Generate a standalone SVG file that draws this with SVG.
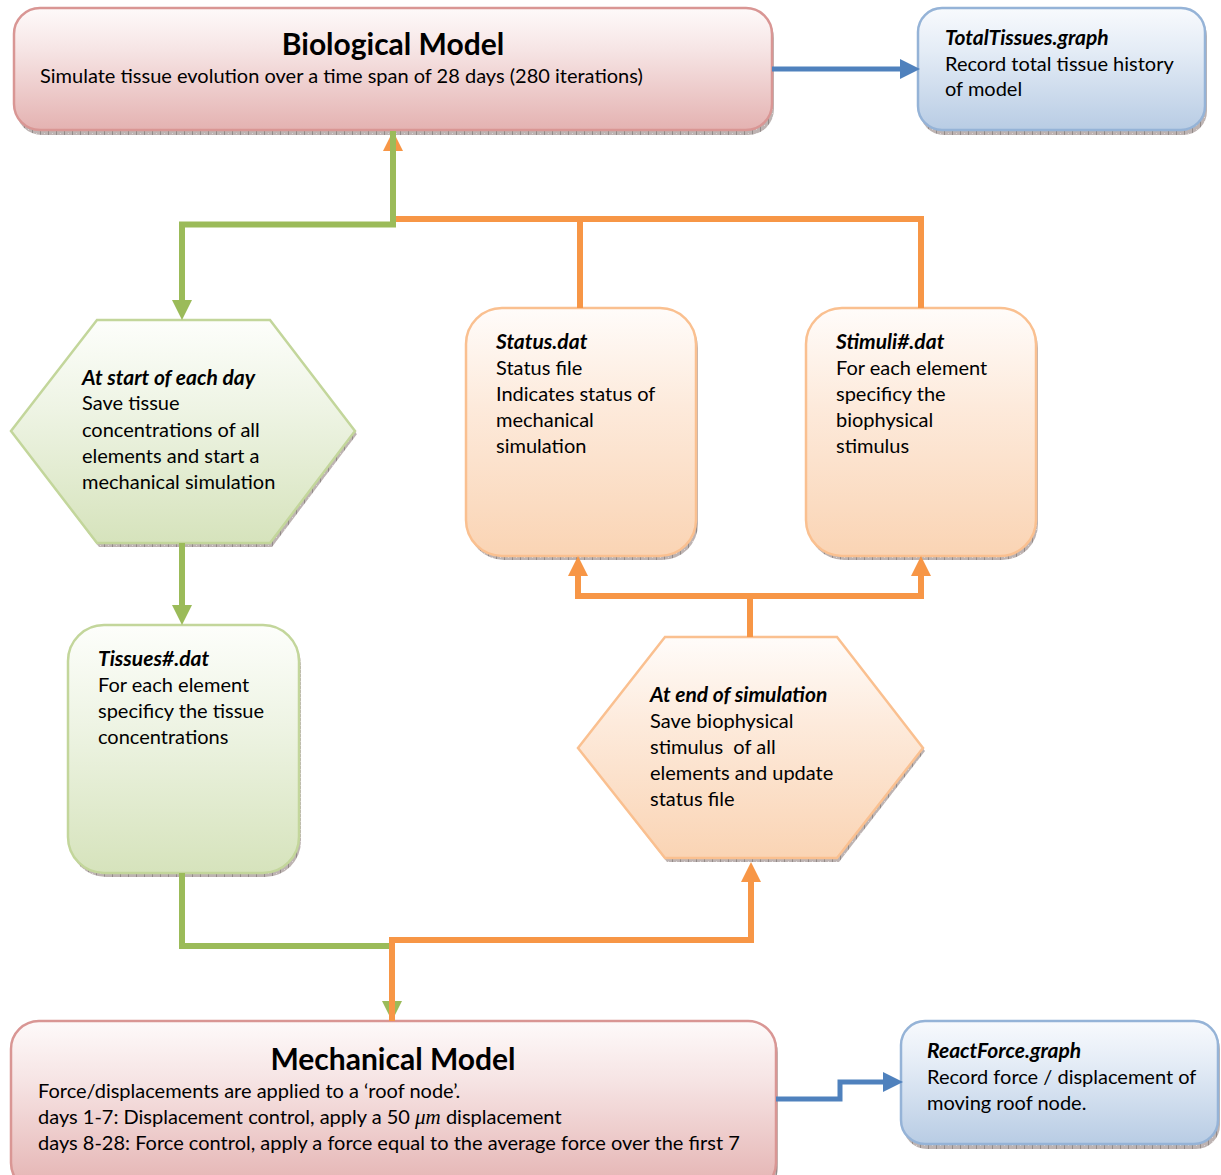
<svg xmlns="http://www.w3.org/2000/svg" width="1221" height="1175" viewBox="0 0 1221 1175">
  <defs>
    <linearGradient id="gRed" x1="0" y1="0" x2="0" y2="1">
      <stop offset="0" stop-color="#fefafa"/>
      <stop offset="0.35" stop-color="#f6e4e4"/>
      <stop offset="1" stop-color="#e4b2b1"/>
    </linearGradient>
    <linearGradient id="gBlue" x1="0" y1="0" x2="0" y2="1">
      <stop offset="0" stop-color="#f8fafd"/>
      <stop offset="0.35" stop-color="#e4ecf6"/>
      <stop offset="1" stop-color="#b8cce4"/>
    </linearGradient>
    <linearGradient id="gGreen" x1="0" y1="0" x2="0" y2="1">
      <stop offset="0" stop-color="#fdfefb"/>
      <stop offset="0.4" stop-color="#eef4e4"/>
      <stop offset="1" stop-color="#d6e3bc"/>
    </linearGradient>
    <linearGradient id="gOrange" x1="0" y1="0" x2="0" y2="1">
      <stop offset="0" stop-color="#fffcfa"/>
      <stop offset="0.4" stop-color="#fdeadb"/>
      <stop offset="1" stop-color="#fad4b4"/>
    </linearGradient>
    <!-- textured drop shadow -->
    <pattern id="shadowTex" width="8" height="4" patternUnits="userSpaceOnUse">
      <rect width="8" height="4" fill="#a79a98"/>
      <rect x="0" y="0" width="1" height="4" fill="#6f6462"/>
      <rect x="4" y="1" width="1" height="1" fill="#cfc6c4"/>
    </pattern>
    <marker id="arGreen" viewBox="0 0 20 20" markerWidth="20" markerHeight="20" markerUnits="userSpaceOnUse" refX="9" refY="10" orient="auto">
      <path d="M0,0 L20,10 L0,20 z" fill="#9bbb59"/>
    </marker>
    <marker id="arOrange" viewBox="0 0 20 20" markerWidth="20" markerHeight="20" markerUnits="userSpaceOnUse" refX="9" refY="10" orient="auto">
      <path d="M0,0 L20,10 L0,20 z" fill="#f79646"/>
    </marker>
    <marker id="arBlue" viewBox="0 0 20 20" markerWidth="20" markerHeight="20" markerUnits="userSpaceOnUse" refX="9" refY="10" orient="auto">
      <path d="M0,0 L20,10 L0,20 z" fill="#4f81bd"/>
    </marker>
  </defs>
  <style>
    text { font-family: Lato, "Open Sans", "Noto Sans", sans-serif; fill: #000; white-space: pre; }
    .title { font-size: 30px; font-weight: bold; text-anchor: middle; }
    .body { font-size: 20px; }
    .head { font-size: 21px; font-weight: bold; font-style: italic; }
    .shadow { fill: url(#shadowTex); opacity: 0.75; }
    .red { fill: url(#gRed); stroke: #d99694; stroke-width: 2.5; }
    .blue { fill: url(#gBlue); stroke: #95b3d7; stroke-width: 2.5; }
    .green { fill: url(#gGreen); stroke: #c3d69b; stroke-width: 2.5; }
    .orange { fill: url(#gOrange); stroke: #fac090; stroke-width: 2.5; }
    .cG { fill: none; stroke: #9bbb59; stroke-width: 6; }
    .cO { fill: none; stroke: #f79646; stroke-width: 6; }
    .cB { fill: none; stroke: #4f81bd; stroke-width: 5; }
  </style>
  <rect width="1221" height="1175" fill="#fff"/>

  <!-- Biological Model -->
  <g id="biological-model">
    <rect class="shadow" x="16" y="12" width="758" height="123" rx="26"/>
    <rect class="red" x="14" y="8" width="758" height="122" rx="26"/>
    <text class="title" x="393" y="55">Biological Model</text>
    <text class="body" x="40" y="83">Simulate tissue evolution over a time span of 28 days (280 iterations)</text>
  </g>

  <!-- TotalTissues.graph -->
  <g id="total-tissues">
    <rect class="shadow" x="920" y="12" width="287" height="123" rx="24"/>
    <rect class="blue" x="918" y="8" width="287" height="122" rx="24"/>
    <text class="head" x="945" y="45">TotalTissues.graph</text>
    <text class="body" x="945" y="71">Record total tissue history</text>
    <text class="body" x="945" y="96">of model</text>
  </g>

  <!-- At start of each day -->
  <g id="start-of-day">
    <polygon class="shadow" points="99,324 272,324 357,434 272,547 99,547 13,434"/>
    <polygon class="green" points="97,320 270,320 355,431 270,543 97,543 11,431"/>
    <text class="head" x="82" y="385">At start of each day</text>
    <text class="body" x="82" y="410">Save tissue</text>
    <text class="body" x="82" y="437">concentrations of all</text>
    <text class="body" x="82" y="463">elements and start a</text>
    <text class="body" x="82" y="489">mechanical simulation</text>
  </g>

  <!-- Tissues#.dat -->
  <g id="tissues-dat">
    <rect class="shadow" x="70" y="629" width="231" height="248" rx="36"/>
    <rect class="green" x="68" y="625" width="231" height="248" rx="36"/>
    <text class="head" x="98" y="666">Tissues#.dat</text>
    <text class="body" x="98" y="692">For each element</text>
    <text class="body" x="98" y="718">specificy the tissue</text>
    <text class="body" x="98" y="744">concentrations</text>
  </g>

  <!-- Status.dat -->
  <g id="status-dat">
    <rect class="shadow" x="468" y="312" width="230" height="248" rx="36"/>
    <rect class="orange" x="466" y="308" width="230" height="248" rx="36"/>
    <text class="head" x="496" y="349">Status.dat</text>
    <text class="body" x="496" y="375">Status file</text>
    <text class="body" x="496" y="401">Indicates status of</text>
    <text class="body" x="496" y="427">mechanical</text>
    <text class="body" x="496" y="453">simulation</text>
  </g>

  <!-- Stimuli#.dat -->
  <g id="stimuli-dat">
    <rect class="shadow" x="808" y="312" width="230" height="248" rx="36"/>
    <rect class="orange" x="806" y="308" width="230" height="248" rx="36"/>
    <text class="head" x="836" y="349">Stimuli#.dat</text>
    <text class="body" x="836" y="375">For each element</text>
    <text class="body" x="836" y="401">specificy the</text>
    <text class="body" x="836" y="427">biophysical</text>
    <text class="body" x="836" y="453">stimulus</text>
  </g>

  <!-- At end of simulation -->
  <g id="end-of-simulation">
    <polygon class="shadow" points="667,641 839,641 925,751 839,862 667,862 580,751"/>
    <polygon class="orange" points="665,637 837,637 923,748 837,858 665,858 578,748"/>
    <text class="head" x="650" y="702">At end of simulation</text>
    <text class="body" x="650" y="728">Save biophysical</text>
    <text class="body" x="650" y="754">stimulus  of all</text>
    <text class="body" x="650" y="780">elements and update</text>
    <text class="body" x="650" y="806">status file</text>
  </g>

  <!-- Mechanical Model -->
  <g id="mechanical-model">
    <rect class="shadow" x="13" y="1025" width="765" height="170" rx="28"/>
    <rect class="red" x="11" y="1021" width="765" height="170" rx="28"/>
    <text class="title" x="393" y="1070">Mechanical Model</text>
    <text class="body" x="38" y="1098">Force/displacements are applied to a ‘roof node’.</text>
    <text class="body" x="38" y="1124">days 1-7: Displacement control, apply a 50 <tspan font-family="'Liberation Serif', serif" font-style="italic" font-size="21">μm</tspan> displacement</text>
    <text class="body" x="38" y="1150">days 8-28: Force control, apply a force equal to the average force over the first 7</text>
  </g>

  <!-- ReactForce.graph -->
  <g id="react-force">
    <rect class="shadow" x="903" y="1025" width="317" height="124" rx="24"/>
    <rect class="blue" x="901" y="1021" width="317" height="123" rx="24"/>
    <text class="head" x="927" y="1058">ReactForce.graph</text>
    <text class="body" x="927" y="1084">Record force / displacement of</text>
    <text class="body" x="927" y="1110">moving roof node.</text>
  </g>

  <!-- Connectors -->
  <g id="connectors">
    <path class="cB" d="M772,69 H909" marker-end="url(#arBlue)"/>
    <path class="cB" d="M776,1099 H840 V1082 H892" marker-end="url(#arBlue)"/>
    <path class="cO" d="M921,308 V219 H393 V142" marker-end="url(#arOrange)"/>
    <path class="cO" d="M580,308 V219"/>
    <path class="cG" d="M393,131 V224.5 H182 V309" marker-end="url(#arGreen)"/>
    <path class="cG" d="M182,543 V614" marker-end="url(#arGreen)"/>
    <path class="cO" d="M750,637 V596 H578 V567" marker-end="url(#arOrange)"/>
    <path class="cO" d="M750,596 H921 V567" marker-end="url(#arOrange)"/>
    <path class="cG" d="M182,873 V946 H392 V1010" marker-end="url(#arGreen)"/>
    <path class="cO" d="M392,1021 V940 H751 V873" marker-end="url(#arOrange)"/>
  </g>
</svg>
